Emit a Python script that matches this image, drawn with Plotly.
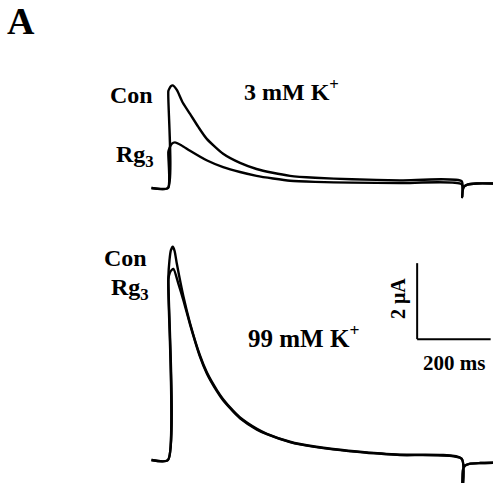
import plotly.graph_objects as go

# ---- data (time in ms, current in uA) ----
top_con_t = [-45, 0, 1, 4, 8, 13, 24, 40, 60, 83, 105, 150, 196, 241, 285, 332, 400, 500, 631, 799, 800.5, 802, 806, 815, 840, 885]
top_con_i = [0, 0, 2.55, 2.62, 2.68, 2.7, 2.58, 2.25, 1.95, 1.6, 1.3, 0.9, 0.66, 0.5, 0.4, 0.32, 0.27, 0.23, 0.2, 0.18, -0.24, -0.05, 0.04, 0.09, 0.12, 0.12]

top_rg3_t = [-45, 0, 1, 4, 10, 19, 37, 60, 105, 150, 196, 241, 286, 332, 400, 500, 631, 799, 800.5, 802, 806, 815, 840, 885]
top_rg3_i = [0, 0, 0.95, 1.05, 1.16, 1.2, 1.12, 0.98, 0.73, 0.55, 0.42, 0.32, 0.25, 0.19, 0.16, 0.14, 0.13, 0.10, -0.24, -0.05, 0.04, 0.09, 0.12, 0.12]

bot_con_t = [-45, 0, 1, 4, 8, 13, 18, 24, 42, 60, 87, 106, 133, 150, 177, 196, 242, 269, 332, 359, 449, 541, 631, 799, 800.5, 803, 808, 820, 850, 885]
bot_con_i = [0, 0, 4.8, 5.25, 5.52, 5.61, 5.5, 5.17, 4.3, 3.6, 2.75, 2.3, 1.84, 1.6, 1.3, 1.12, 0.82, 0.69, 0.48, 0.42, 0.29, 0.2, 0.14, 0.04, -0.9, -0.25, -0.15, -0.10, -0.08, -0.07]

bot_rg3_t = [-45, 0, 1, 5, 10, 15, 28, 42, 60, 87, 106, 133, 150, 177, 196, 242, 269, 332, 359, 449, 541, 631, 799, 800.5, 803, 808, 820, 850, 885]
bot_rg3_i = [0, 0, 4.75, 4.93, 5.0, 5.03, 4.65, 4.2, 3.57, 2.72, 2.27, 1.81, 1.57, 1.28, 1.1, 0.8, 0.68, 0.47, 0.41, 0.28, 0.19, 0.13, 0.03, -0.9, -0.25, -0.15, -0.10, -0.08, -0.07]

scale_ms = 200
scale_ua = 2

W, H = 493, 483
FONT = "Liberation Serif"

fig = go.Figure()
line = dict(color="black", width=2.4, shape="spline", smoothing=0.6)
for t, i, ax in [(top_con_t, top_con_i, "y"), (top_rg3_t, top_rg3_i, "y"),
                 (bot_con_t, bot_con_i, "y2"), (bot_rg3_t, bot_rg3_i, "y2")]:
    fig.add_trace(go.Scatter(x=t, y=i, mode="lines", line=line, yaxis=ax,
                             hoverinfo="skip", showlegend=False))

# scale bar (bottom panel coordinates)
sx0, sy0 = 678, 3.18
fig.add_shape(type="line", xref="x", yref="y2", x0=sx0, x1=sx0, y0=sy0, y1=sy0 + scale_ua,
              line=dict(color="black", width=2))
fig.add_shape(type="line", xref="x", yref="y2", x0=sx0, x1=sx0 + scale_ms, y0=sy0, y1=sy0,
              line=dict(color="black", width=2))


def px(x):
    return x / W


def py(y):
    return (H - y) / H


def ann(text, x, y, size, xa="center", ya="middle", angle=0):
    fig.add_annotation(text=text, x=px(x), y=py(y), xref="paper", yref="paper",
                       xanchor=xa, yanchor=ya, showarrow=False, textangle=angle,
                       font=dict(family=FONT, size=size, color="black"))


ann("<b>A</b>", 21, 21, 38)
ann("<b>Con</b>", 155, 95, 24, xa="right")
ann("<b>Rg<sub>3</sub></b>", 156, 156, 24, xa="right")
ann("<b>3 mM K<sup>+</sup></b>", 242, 90, 24, xa="left")
ann("<b>Con</b>", 149, 258, 24, xa="right")
ann("<b>Rg<sub>3</sub></b>", 151, 289, 24, xa="right")
ann("<b>99 mM K<sup>+</sup></b>", 246, 336, 25, xa="left")
ann("<b>2 μA</b>", 398, 299, 20, angle=-90)
ann("<b>200 ms</b>", 454, 363, 21)

fig.update_layout(
    width=W, height=H, autosize=False,
    margin=dict(l=0, r=0, t=0, b=0, pad=0),
    paper_bgcolor="white", plot_bgcolor="white",
    showlegend=False,
    xaxis=dict(range=[-457.1, 884.4], visible=False, fixedrange=True),
    yaxis=dict(range=[-7.763, 4.947], visible=False, fixedrange=True),
    yaxis2=dict(range=[-0.605, 12.105], visible=False, overlaying="y", anchor="x", fixedrange=True),
)

fig.write_html("out.html", config={"displayModeBar": False},
               post_script="document.body.style.margin='0px';document.body.style.overflow='hidden';")
